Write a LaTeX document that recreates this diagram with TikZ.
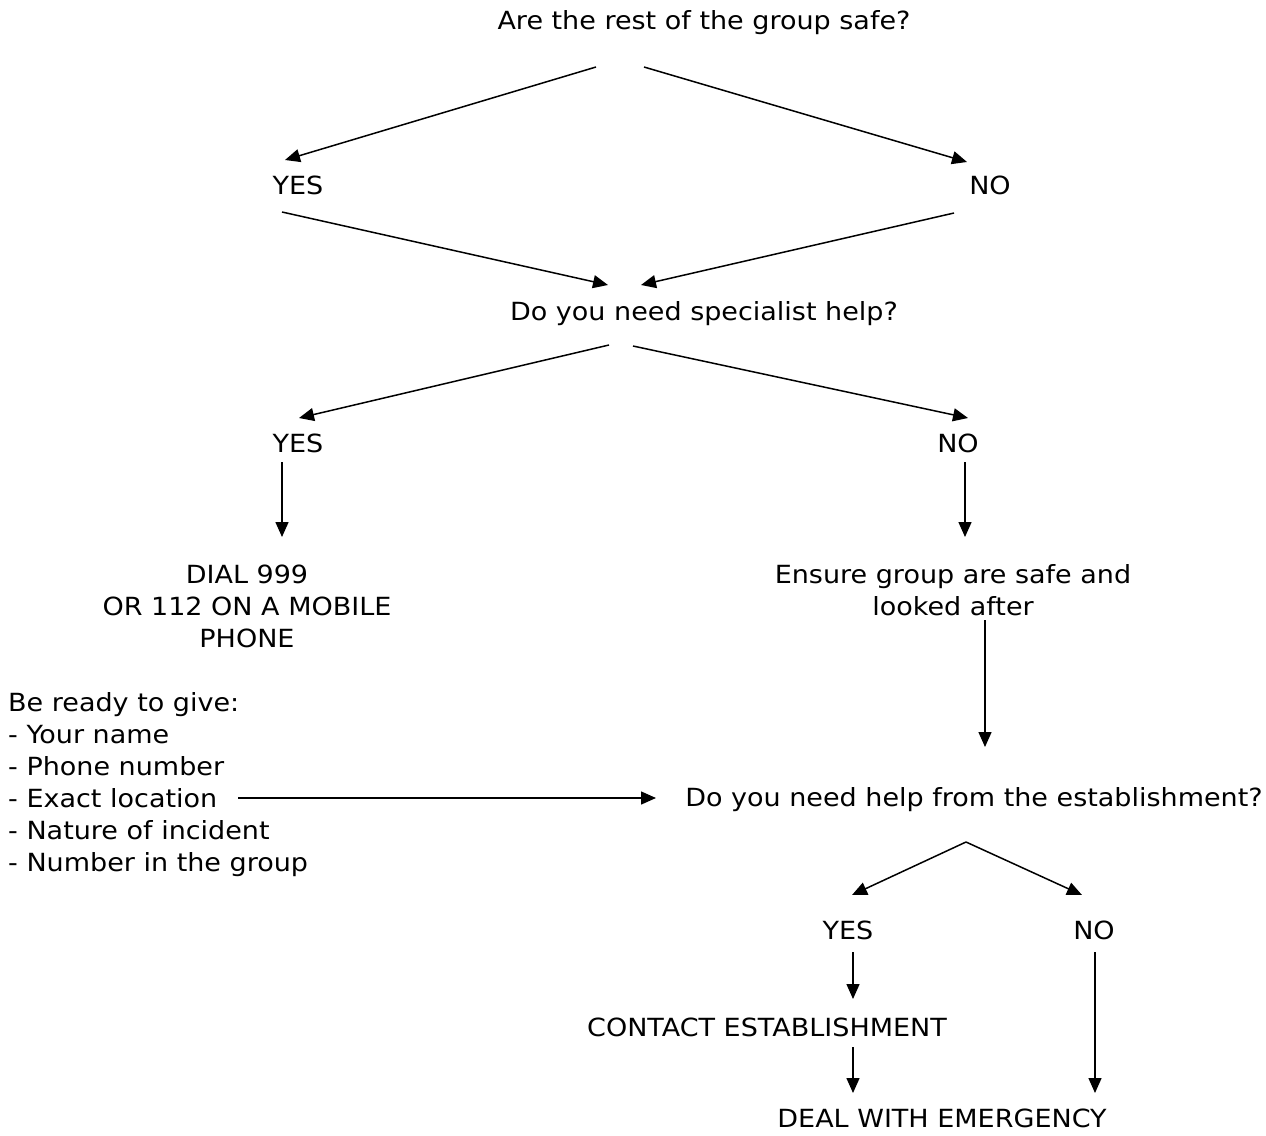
\documentclass[tikz,border=0pt]{standalone}
\usepackage{fontspec}
\setmainfont{DejaVu Sans}[FakeStretch=1.08]
\usetikzlibrary{arrows.meta}
\begin{document}
\begin{tikzpicture}[x=1pt,y=-1pt,
  lbl/.style={inner sep=0pt,align=center,font=\fontsize{25}{32}\selectfont},
  arr/.style={line width=1.5pt,-{Triangle[length=15pt,width=13pt]}},
  ln/.style={line width=1.5pt}]
\useasboundingbox (0,0) rectangle (1266,1135);
% nodes
\node[lbl] (q1) at (704,23) {Are the rest of the group safe?};
\node[lbl] (y1) at (298,185) {YES};
\node[lbl] (n1) at (990,185) {NO};
\node[lbl] (q2) at (704,314) {Do you need specialist help?};
\node[lbl] (y2) at (298,443) {YES};
\node[lbl] (n2) at (958,443) {NO};
\node[lbl] (dial) at (247,606) {DIAL 999\\OR 112 ON A MOBILE\\PHONE};
\node[lbl] (ens) at (953,590) {Ensure group are safe and\\looked after};
\node[lbl,align=left,anchor=west] (list) at (8,785) {Be ready to give:\\- Your name\\- Phone number\\- Exact location\\- Nature of incident\\- Number in the group};
\node[lbl] (q3) at (974,800) {Do you need help from the establishment?};
\node[lbl] (y3) at (848,930) {YES};
\node[lbl] (n3) at (1094,930) {NO};
\node[lbl] (ce) at (767,1027) {CONTACT ESTABLISHMENT};
\node[lbl] (deal) at (942,1118) {DEAL WITH EMERGENCY};
% connector end points
\coordinate (q1l) at (596,67); \coordinate (q1r) at (644,67);
\coordinate (y1t) at (285,160); \coordinate (n1t) at (967,162);
\coordinate (y1b) at (282,212); \coordinate (n1b) at (954,213);
\coordinate (q2l) at (608,285); \coordinate (q2r) at (641,285);
\coordinate (q2bl) at (609,345); \coordinate (q2br) at (633,346);
\coordinate (y2t) at (299,418); \coordinate (n2t) at (968,418);
\coordinate (y2b) at (282,462); \coordinate (dialt) at (282,537);
\coordinate (n2b) at (965,462); \coordinate (enst) at (965,537);
\coordinate (ensb) at (985,620); \coordinate (q3t) at (985,747);
\coordinate (liste) at (238,798); \coordinate (q3w) at (656,798);
\coordinate (q3b) at (966,842);
\coordinate (y3t) at (852,895); \coordinate (n3t) at (1082,895);
\coordinate (y3b) at (853,952); \coordinate (cet) at (853,999);
\coordinate (ceb) at (853,1047); \coordinate (dealt) at (853,1093);
\coordinate (n3b) at (1095,952); \coordinate (dealt2) at (1095,1093);
% connectors
\draw[arr] (q1l) -- (y1t);
\draw[arr] (q1r) -- (n1t);
\draw[arr] (y1b) -- (q2l);
\draw[arr] (n1b) -- (q2r);
\draw[arr] (q2bl) -- (y2t);
\draw[arr] (q2br) -- (n2t);
\draw[arr] (y2b) -- (dialt);
\draw[arr] (n2b) -- (enst);
\draw[arr] (ensb) -- (q3t);
\draw[arr] (liste) -- (q3w);
\draw[arr] (q3b) -- (y3t);
\draw[arr] (q3b) -- (n3t);
\draw[arr] (y3b) -- (cet);
\draw[arr] (ceb) -- (dealt);
\draw[arr] (n3b) -- (dealt2);
\end{tikzpicture}
\end{document}
